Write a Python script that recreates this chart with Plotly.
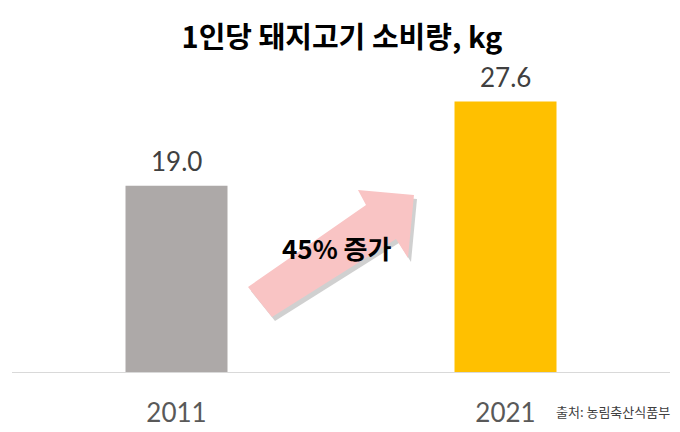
import plotly.graph_objects as go

years = ["2011", "2021"]
consumption = [19.0, 27.6]
bar_colors = ["#ADA9A8", "#FFC000"]
title_text = "<b>1인당 돼지고기 소비량, kg</b>"
arrow_text = "<b>45% 증가</b>"
source_text = "출처: 농림축산식품부"

# the page puts the figure 8px in from the corner, so work in figure pixels
W, H = 672, 424
OFF = 8
PX_L, PX_R, PX_T, PX_B = 12 - OFF, 670 - OFF, 78 - OFF, 372 - OFF


def to_paper(px, py):
    # px, py are screen pixels of the reference
    px, py = px - OFF, py - OFF
    return (px - PX_L) / (PX_R - PX_L), (PX_B - py) / (PX_B - PX_T)


def path_from(points):
    pts = [to_paper(x, y) for x, y in points]
    return "M " + " L ".join(f"{x:.4f},{y:.4f}" for x, y in pts) + " Z"


arrow_px = [
    (248, 287), (366, 205), (358, 190), (414, 195),
    (408, 258), (396, 239), (272, 317),
]
shadow_px = [(x + 3, y + 4) for x, y in arrow_px]

fig = go.Figure(
    data=[
        go.Bar(
            x=years,
            y=consumption,
            marker=dict(color=bar_colors, line=dict(width=0)),
            width=0.31,
            hoverinfo="skip",
        )
    ]
)

for i, val in enumerate(consumption):
    fig.add_annotation(
        x=i, y=val, xref="x", yref="y", text=f"{val:.1f}", showarrow=False,
        yanchor="bottom", yshift=7,
        font=dict(family="Lato, Noto Sans", size=26, color="#404040"),
    )

fig.add_shape(
    type="path", xref="paper", yref="paper", path=path_from(shadow_px),
    fillcolor="rgba(120,120,120,0.35)", line=dict(width=0), layer="above",
)
fig.add_shape(
    type="path", xref="paper", yref="paper", path=path_from(arrow_px),
    fillcolor="#F9C4C4", line=dict(width=0), layer="above",
)

tx, ty = to_paper(337, 247)
fig.add_annotation(
    x=tx, y=ty, xref="paper", yref="paper",
    text=arrow_text, showarrow=False,
    font=dict(family="Noto Sans CJK KR", size=26, color="#000000"),
)
sx, sy = to_paper(672, 411)
fig.add_annotation(
    x=sx, y=sy, xref="paper", yref="paper", xanchor="right", yanchor="middle",
    text=source_text, showarrow=False,
    font=dict(family="Noto Sans CJK KR", size=13, color="#404040"),
)

fig.update_layout(
    width=W,
    height=H,
    margin=dict(l=PX_L, r=W - PX_R, t=PX_T, b=H - PX_B),
    paper_bgcolor="white",
    plot_bgcolor="white",
    showlegend=False,
    title=dict(
        text=title_text, x=0.497, xanchor="center",
        y=1 - (38 - OFF) / H, yanchor="middle",
        font=dict(family="Noto Sans CJK KR", size=29, color="#000000"),
    ),
)
fig.update_xaxes(
    type="category",
    categoryorder="array", categoryarray=years,
    range=[-0.5, 1.5],
    showline=True, linecolor="#D9D9D9", linewidth=1,
    ticks="outside", ticklen=18, tickcolor="rgba(0,0,0,0)",
    tickfont=dict(family="Lato, Noto Sans", size=26, color="#595959"),
    showgrid=False,
)
fig.update_yaxes(
    range=[0, 30], visible=False, showgrid=False, zeroline=False,
)

fig.write_html("out.html")
